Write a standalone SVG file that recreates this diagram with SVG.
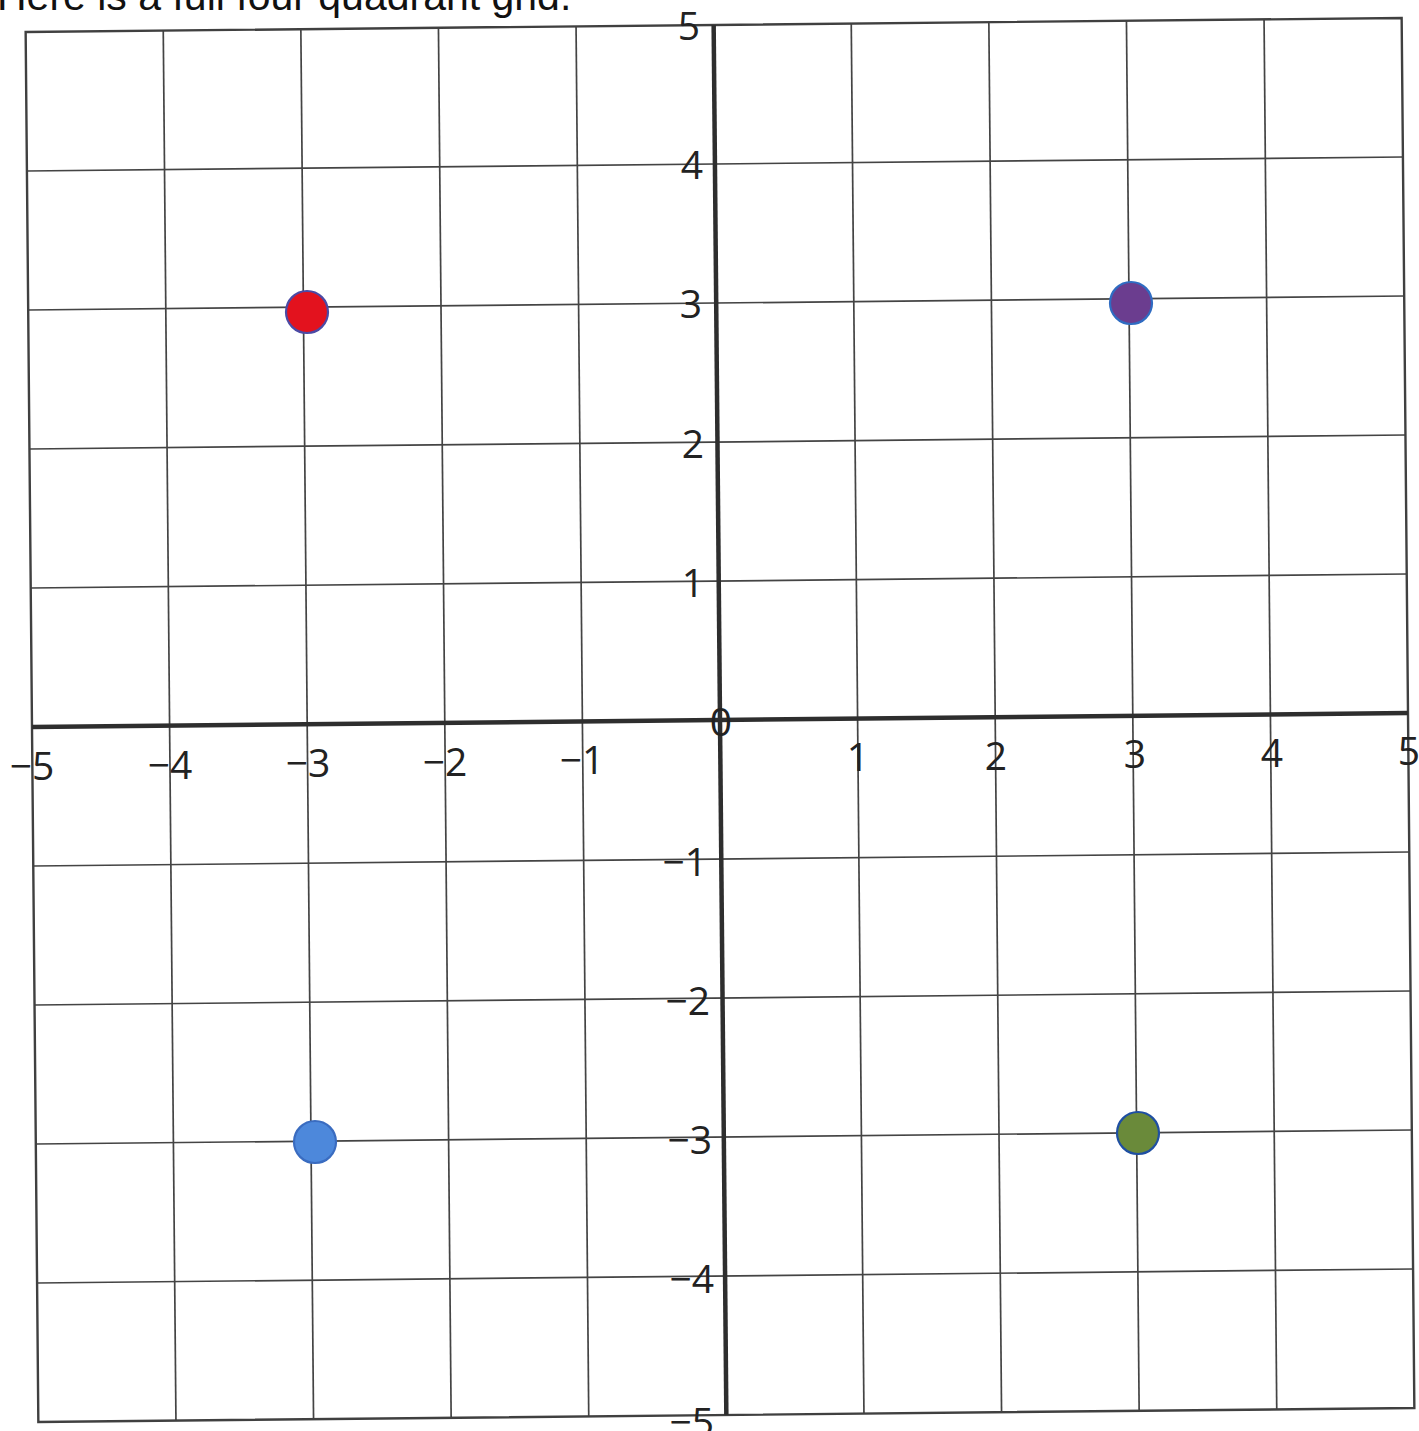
<svg xmlns="http://www.w3.org/2000/svg" width="1419" height="1431" viewBox="0 0 1419 1431">
  <style>
    .grid { stroke: #444444; stroke-width: 1.7; fill: none; }
    .border { stroke: #404040; stroke-width: 2.4; fill: none; }
    .axis { stroke: #2e2e2e; stroke-width: 4.5; fill: none; }
    .lbl { font-family: "Open Sans", "Noto Sans", "Liberation Sans", sans-serif; font-size: 39px; fill: #222; }
    .mid { text-anchor: middle; }
    .end { text-anchor: end; }
    .head { font-family: "Liberation Sans", Arial, sans-serif; font-size: 41px; fill: #111; }
    .pt { stroke-width: 2.2; }
  </style>
  <rect width="1419" height="1431" fill="#ffffff"/>
  <text class="head" x="-3" y="10">Here is a full four quadrant grid.</text>

  <g id="connectors">
    <g id="grid-vertical">
      <line class="grid" x1="163.25" y1="30.6" x2="175.95" y2="1420.6"/>
      <line class="grid" x1="300.85" y1="29.2" x2="313.55" y2="1419.2"/>
      <line class="grid" x1="438.45" y1="27.8" x2="451.15" y2="1417.8"/>
      <line class="grid" x1="576.05" y1="26.4" x2="588.75" y2="1416.4"/>
      <line class="grid" x1="851.25" y1="23.6" x2="863.95" y2="1413.6"/>
      <line class="grid" x1="988.85" y1="22.2" x2="1001.55" y2="1412.2"/>
      <line class="grid" x1="1126.45" y1="20.8" x2="1139.15" y2="1410.8"/>
      <line class="grid" x1="1264.05" y1="19.4" x2="1276.75" y2="1409.4"/>
    </g>
    <g id="grid-horizontal">
      <line class="grid" x1="26.92" y1="171" x2="1402.92" y2="157"/>
      <line class="grid" x1="28.19" y1="310" x2="1404.19" y2="296"/>
      <line class="grid" x1="29.46" y1="449" x2="1405.46" y2="435"/>
      <line class="grid" x1="30.73" y1="588" x2="1406.73" y2="574"/>
      <line class="grid" x1="33.27" y1="866" x2="1409.27" y2="852"/>
      <line class="grid" x1="34.54" y1="1005" x2="1410.54" y2="991"/>
      <line class="grid" x1="35.81" y1="1144" x2="1411.81" y2="1130"/>
      <line class="grid" x1="37.08" y1="1283" x2="1413.08" y2="1269"/>
    </g>
    <polygon id="border" class="border" points="25.65,32 1401.65,18 1414.35,1408 38.35,1422"/>
    <g id="axes">
      <line class="axis" x1="32" y1="727" x2="1408" y2="713"/>
      <line class="axis" x1="713.65" y1="25" x2="726.35" y2="1415"/>
    </g>
  </g>

  <g id="x-labels">
    <text class="lbl mid" x="32" y="780">−5</text>
    <text class="lbl mid" x="170" y="778.5">−4</text>
    <text class="lbl mid" x="308" y="777">−3</text>
    <text class="lbl mid" x="445" y="775.5">−2</text>
    <text class="lbl mid" x="582" y="774">−1</text>
    <text class="lbl mid" x="858" y="771">1</text>
    <text class="lbl mid" x="996" y="769.5">2</text>
    <text class="lbl mid" x="1135" y="768">3</text>
    <text class="lbl mid" x="1272" y="766.5">4</text>
    <text class="lbl mid" x="1409" y="765">5</text>
  </g>
  <g id="y-labels">
    <text class="lbl end" x="700" y="40">5</text>
    <text class="lbl end" x="703" y="178.5">4</text>
    <text class="lbl end" x="702" y="318">3</text>
    <text class="lbl end" x="704" y="457.5">2</text>
    <text class="lbl end" x="704" y="597">1</text>
    <text class="lbl mid" x="721" y="735.5">0</text>
    <text class="lbl end" x="707" y="876">−1</text>
    <text class="lbl end" x="710" y="1015">−2</text>
    <text class="lbl end" x="712" y="1154">−3</text>
    <text class="lbl end" x="714" y="1293">−4</text>
    <text class="lbl end" x="714" y="1436">−5</text>
  </g>

  <g id="point-red"><circle class="pt" cx="307" cy="312" r="21" fill="#e3121e" stroke="#4b4aa5"/></g>
  <g id="point-purple"><circle class="pt" cx="1131" cy="303" r="21" fill="#6b3d8f" stroke="#2f6cc2"/></g>
  <g id="point-blue"><circle class="pt" cx="315" cy="1142" r="21" fill="#4d88db" stroke="#3a6cc0"/></g>
  <g id="point-green"><circle class="pt" cx="1138" cy="1133" r="21" fill="#6a8a3a" stroke="#1f4fa2"/></g>
</svg>
